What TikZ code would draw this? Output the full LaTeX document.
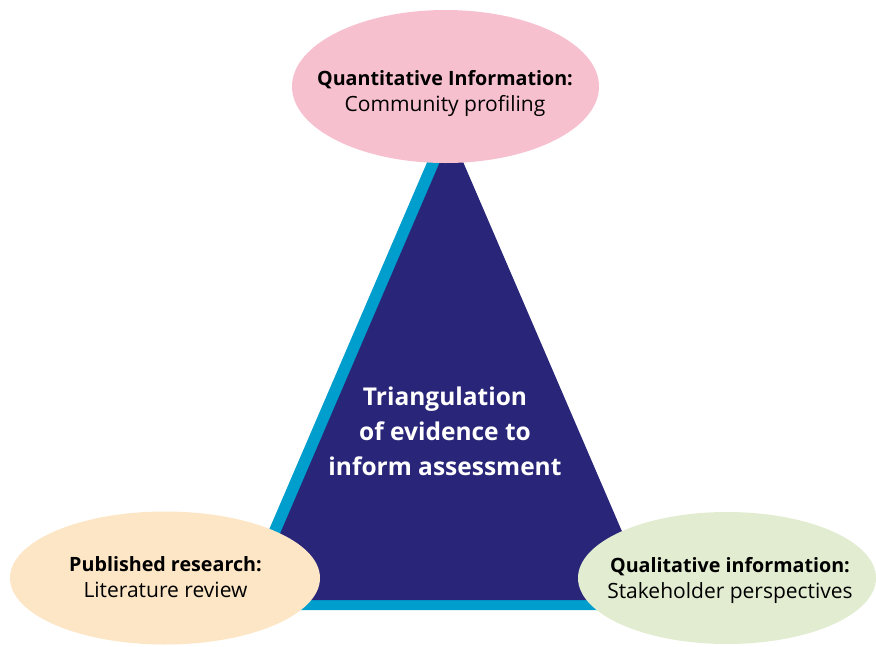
\documentclass[tikz,border=0pt]{standalone}
\usepackage{fontspec}
\setmainfont{Open Sans}
\usetikzlibrary{shapes.geometric}
\definecolor{navy}{RGB}{41,37,120}
\definecolor{cyanedge}{RGB}{0,158,204}
\definecolor{pinkfill}{RGB}{247,192,207}
\definecolor{peachfill}{RGB}{253,230,198}
\definecolor{greenfill}{RGB}{226,236,208}
\newcommand{\headfont}{\fontsize{19.7}{26}\selectfont\bfseries}
\newcommand{\subfont}{\fontsize{21}{26}\selectfont}
\tikzset{
  blob/.style={ellipse, draw=none, inner sep=0pt},
  blobtext/.style={align=center, font=\fontsize{21}{26}\selectfont, text=black, inner sep=0pt},
  maintext/.style={align=center, font=\fontsize{24.5}{35}\selectfont\bfseries, text=white, inner sep=0pt}
}
\begin{document}
\begin{tikzpicture}[x=1pt,y=-1pt]
\useasboundingbox (0,0) rectangle (876,646);
% triangle: cyan shadow then navy
\coordinate (ca) at (434.5,145);
\coordinate (cl) at (234.5,610);
\coordinate (cr) at (634.5,610);
\coordinate (na) at (451.5,135);
\coordinate (nl) at (251.5,600);
\coordinate (nr) at (651.5,600);
\fill[cyanedge] (ca) -- (cl) -- (cr) -- cycle;
\fill[navy] (na) -- (nl) -- (nr) -- cycle;
\node[maintext] (core) at (445,431) {Triangulation\\of evidence to\\inform assessment};
% ellipses
\node[blob, fill=pinkfill, minimum width=307pt, minimum height=153pt] (quant) at (445.5,86.5) {};
\node[blob, fill=peachfill, minimum width=310pt, minimum height=133pt] (pub) at (165,578) {};
\node[blob, fill=greenfill, minimum width=298pt, minimum height=132pt] (qual) at (727,578) {};
\node[blobtext] (quanttext) at (445,93.5) {{\headfont Quantitative Information:}\\{\subfont Community profiling}};
\node[blobtext] (pubtext) at (165.5,577) {{\headfont Published research:}\\{\subfont Literature review}};
\node[blobtext] (qualtext) at (730,580) {{\headfont Qualitative information:}\\{\subfont Stakeholder perspectives}};
\end{tikzpicture}
\end{document}
